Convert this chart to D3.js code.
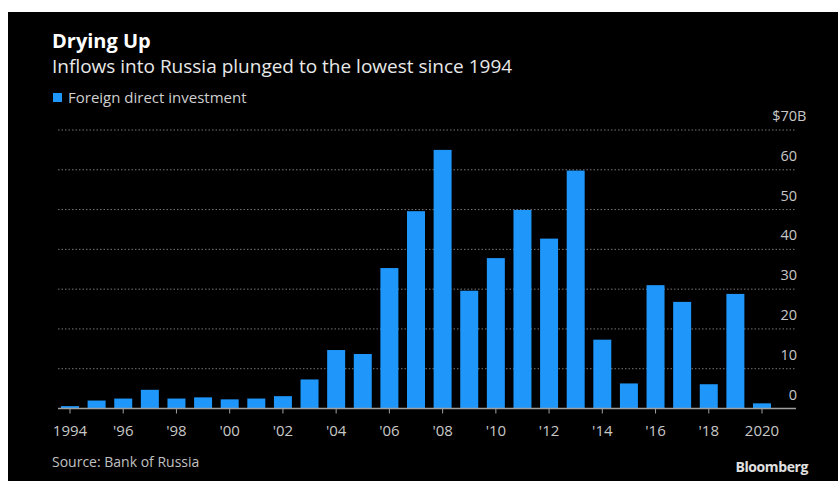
<!DOCTYPE html>
<html>
<head>
<meta charset="utf-8">
<script src="https://cdn.jsdelivr.net/npm/d3@7"></script>
<style>
  html, body { margin: 0; padding: 0; background: #fff; }
  svg { display: block; }
  text { font-family: "Open Sans", "DejaVu Sans", sans-serif; }
</style>
</head>
<body>
<svg id="chart" width="838" height="481"></svg>
<script>
// ---- Data ----
const years = [1994,1995,1996,1997,1998,1999,2000,2001,2002,2003,2004,2005,2006,2007,
               2008,2009,2010,2011,2012,2013,2014,2015,2016,2017,2018,2019,2020];
const fdi = [0.6,2.0,2.5,4.7,2.5,2.8,2.3,2.5,3.1,7.3,14.7,13.7,35.3,49.6,
             65.0,29.6,37.8,49.9,42.7,59.8,17.3,6.3,31.0,26.8,6.1,28.8,1.3];
const xTickYears = [1994,1996,1998,2000,2002,2004,2006,2008,2010,2012,2014,2016,2018,2020];
const xTickLabels = ["1994","'96","'98","'00","'02","'04","'06","'08","'10","'12","'14","'16","'18","2020"];
const yTicks = [0,10,20,30,40,50,60,70];
const yTickLabels = ["0","10","20","30","40","50","60","$70"];
const yUnitSuffix = "B";
const title = "Drying Up";
const subtitle = "Inflows into Russia plunged to the lowest since 1994";
const seriesName = "Foreign direct investment";
const source = "Source: Bank of Russia";
const brand = "Bloomberg";

// ---- Layout ----
const W = 838, H = 481;
const svg = d3.select("#chart");
const barColor = "#1e96fa";

svg.append("rect").attr("x", 0).attr("y", 0).attr("width", W).attr("height", H).attr("fill", "#fff");
svg.append("rect").attr("x", 8).attr("y", 12).attr("width", W - 8).attr("height", H - 12).attr("fill", "#000");

const plotLeft = 58, plotRight = 796;
const x = d3.scaleBand().domain(years).range([58, 774]).paddingInner(0.324).paddingOuter(0.113);
const y = d3.scaleLinear().domain([0, 70]).range([408.5, 130]);

// gridlines
svg.append("g").selectAll("line").data(yTicks.filter(d => d !== 0)).join("line")
  .attr("x1", plotLeft).attr("x2", plotRight)
  .attr("y1", d => y(d)).attr("y2", d => y(d))
  .attr("stroke", "#777").attr("stroke-width", 1).attr("stroke-dasharray", "1.5,2");

// bars
svg.append("g").selectAll("rect").data(years.map((yr, i) => ({yr, v: fdi[i]}))).join("rect")
  .attr("x", d => x(d.yr)).attr("width", x.bandwidth())
  .attr("y", d => y(Math.max(0, d.v))).attr("height", d => Math.abs(y(d.v) - y(0)))
  .attr("fill", barColor);

// baseline axis
const xAxis = d3.axisBottom(x).tickValues(xTickYears)
  .tickFormat(d => xTickLabels[xTickYears.indexOf(d)]).tickSize(5).tickSizeOuter(0);
const gx = svg.append("g").attr("transform", `translate(0,${y(0)})`).call(xAxis);
gx.select(".domain").remove();
gx.selectAll(".tick line").attr("stroke", "#a0a0a0");
gx.selectAll(".tick text").attr("fill", "#c8c8c8").attr("font-size", 15).attr("dy", null).attr("y", 27)
  .attr("font-family", "Open Sans, sans-serif");
svg.append("line").attr("x1", plotLeft).attr("x2", plotRight).attr("y1", y(0)).attr("y2", y(0))
  .attr("stroke", "#a0a0a0").attr("stroke-width", 1.5);

// y labels (right side, above gridlines)
const yl = svg.append("g");
yTicks.forEach((t, i) => {
  yl.append("text").attr("x", 797).attr("y", y(t) - 9).attr("text-anchor", "end")
    .attr("fill", "#c8c8c8").attr("font-size", 14.5).text(yTickLabels[i]);
  if (i === yTicks.length - 1) {
    yl.append("text").attr("x", 797).attr("y", y(t) - 9).attr("text-anchor", "start")
      .attr("fill", "#c8c8c8").attr("font-size", 14.5).text(yUnitSuffix);
  }
});

// titles
svg.append("text").attr("x", 52).attr("y", 48).attr("fill", "#fff")
  .attr("font-size", 20).attr("font-weight", "bold").text(title);
svg.append("text").attr("x", 52).attr("y", 73).attr("fill", "#e8e8e8")
  .attr("font-size", 19).text(subtitle);

// legend
svg.append("rect").attr("x", 53).attr("y", 93).attr("width", 9).attr("height", 9).attr("fill", barColor);
svg.append("text").attr("x", 68).attr("y", 103).attr("fill", "#cfcfcf")
  .attr("font-size", 15).text(seriesName);

// footer
svg.append("text").attr("x", 52).attr("y", 467).attr("fill", "#c0c0c0")
  .attr("font-size", 14).text(source);
svg.append("text").attr("x", 808).attr("y", 472).attr("text-anchor", "end").attr("fill", "#e0e0e0")
  .attr("font-size", 14).attr("font-weight", "bold").attr("letter-spacing", -0.4)
  .attr("font-family", "Liberation Sans, Arial, sans-serif").text(brand);
</script>
</body>
</html>
